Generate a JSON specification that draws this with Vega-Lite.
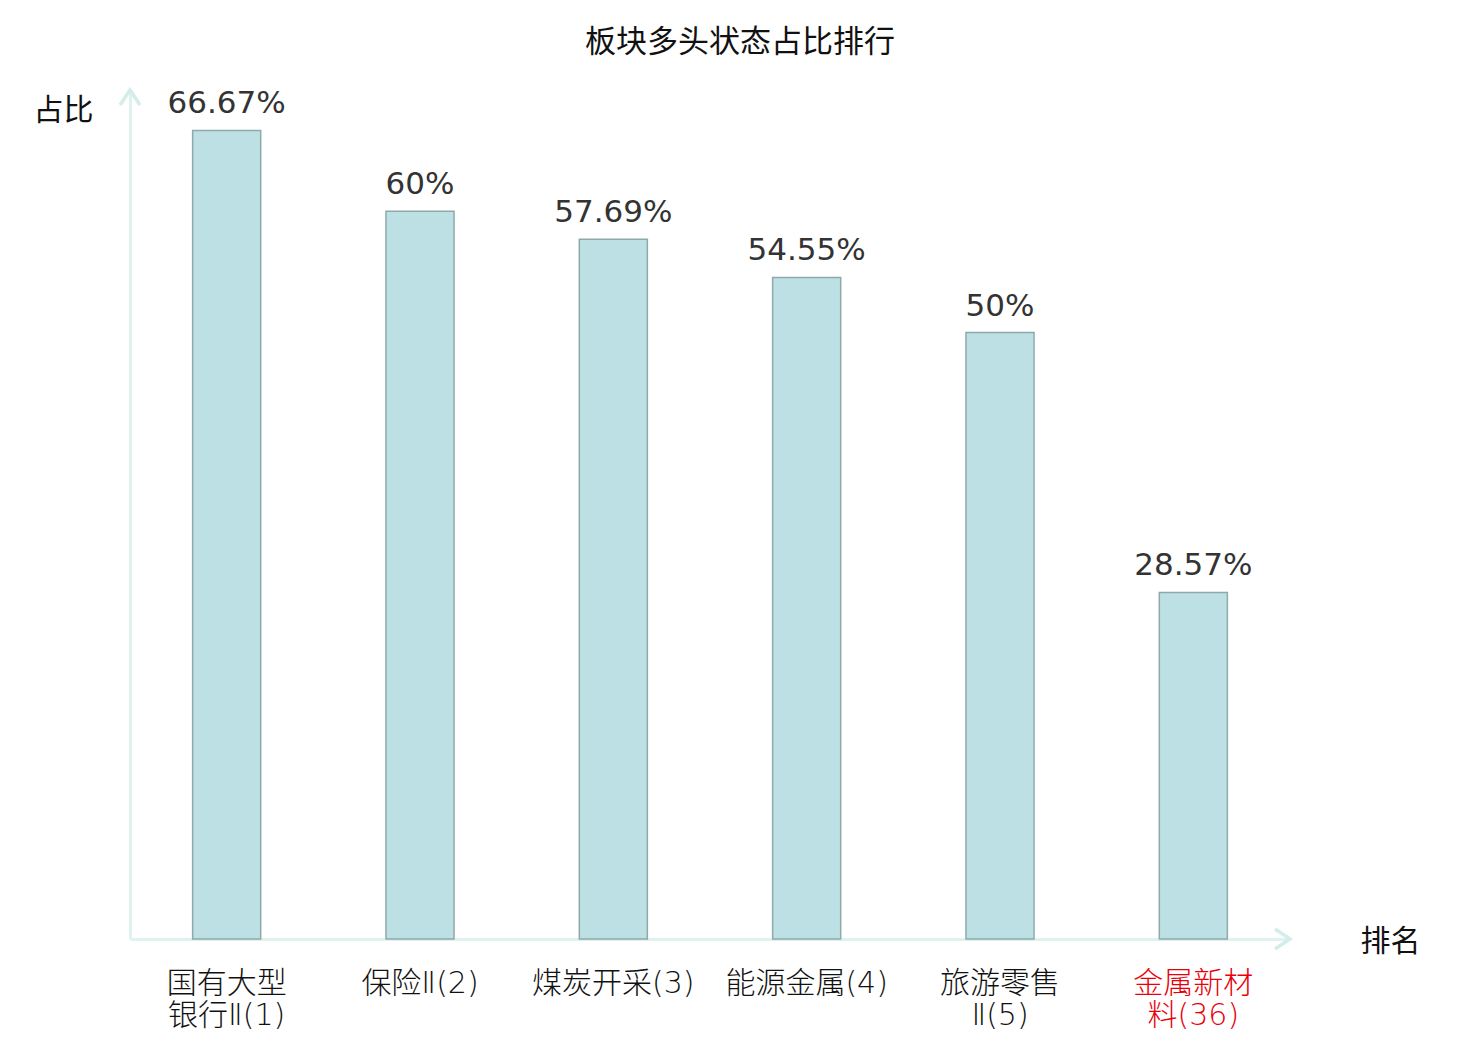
{
  "$schema": "https://vega.github.io/schema/vega-lite/v6.json",
  "width": 1160,
  "height": 849,
  "autosize": {"type": "none"},
  "padding": {"left": 130, "top": 90, "right": 190, "bottom": 101},
  "background": "white",
  "title": {
    "text": "板块多头状态占比排行",
    "font": "Noto Sans CJK SC",
    "fontSize": 31,
    "fontWeight": "normal",
    "color": "#111",
    "anchor": "middle",
    "offset": 24,
    "dx": 30
  },
  "config": {"view": {"stroke": null}},
  "data": {
    "values": [
      {"sector": "国有大型银行Ⅱ(1)", "ratio": 0.6667},
      {"sector": "保险Ⅱ(2)", "ratio": 0.6},
      {"sector": "煤炭开采(3)", "ratio": 0.5769},
      {"sector": "能源金属(4)", "ratio": 0.5455},
      {"sector": "旅游零售Ⅱ(5)", "ratio": 0.5},
      {"sector": "金属新材料(36)", "ratio": 0.2857}
    ]
  },
  "encoding": {
    "x": {
      "field": "sector",
      "type": "nominal",
      "sort": null,
      "scale": {"paddingInner": 0, "paddingOuter": 0},
      "axis": {
        "title": "排名",
        "titleFont": "Noto Sans CJK SC",
        "titleFontSize": 30,
        "titleFontWeight": "normal",
        "titleColor": "#111",
        "titleX": 1260,
        "titleY": 2,
        "titleBaseline": "middle",
        "titleAlign": "center",
        "labelAngle": 0,
        "labelFont": "DejaVu Sans, Noto Sans CJK SC",
        "labelFontSize": 30,
        "labelFontWeight": 200,
        "labelLineHeight": 32,
        "labelPadding": 29,
        "labelBaseline": "top",
        "labelExpr": "length(datum.label) > 7 ? [substring(datum.label, 0, 4), substring(datum.label, 4)] : datum.label",
        "labelColor": {"expr": "datum.value == '金属新材料(36)' ? '#e8000b' : '#111'"},
        "ticks": false,
        "domainColor": "#dff2ef",
        "domainWidth": 3,
        "grid": false
      }
    },
    "y": {
      "field": "ratio",
      "type": "quantitative",
      "scale": {"domain": [0, 0.7]},
      "axis": {
        "title": "占比",
        "titleFont": "Noto Sans CJK SC",
        "titleFontSize": 30,
        "titleFontWeight": "normal",
        "titleColor": "#111",
        "titleAngle": 0,
        "titleX": -67,
        "titleY": 20,
        "titleAlign": "center",
        "titleBaseline": "middle",
        "labels": false,
        "ticks": false,
        "grid": false,
        "domainColor": "#dff2ef",
        "domainWidth": 3
      }
    }
  },
  "layer": [
    {
      "mark": {
        "type": "bar",
        "width": {"band": 0.352},
        "fill": "#bce0e3",
        "stroke": "#8fa9aa",
        "strokeWidth": 1.5
      }
    },
    {
      "mark": {
        "type": "text",
        "baseline": "bottom",
        "dy": -10,
        "font": "DejaVu Sans",
        "fontSize": 31,
        "color": "#333"
      },
      "encoding": {
        "text": {"field": "ratio", "type": "quantitative", "format": ".2~%"}
      }
    },
    {
      "data": {"values": [{"axis": "y", "ratio": 0.7}]},
      "mark": {
        "type": "point",
        "filled": false,
        "opacity": 1,
        "strokeWidth": 3.5,
        "size": 576
      },
      "encoding": {
        "x": {"value": 0},
        "y": {"field": "ratio", "type": "quantitative"},
        "shape": {"value": "M-0.83,1.25L0,0L0.83,1.25"},
        "color": {"value": "#d3eeea"}
      }
    },
    {
      "data": {"values": [{"axis": "x", "ratio": 0}]},
      "mark": {
        "type": "point",
        "filled": false,
        "opacity": 1,
        "strokeWidth": 3.5,
        "size": 576
      },
      "encoding": {
        "x": {"value": 1160},
        "y": {"field": "ratio", "type": "quantitative"},
        "shape": {"value": "M-1.25,-0.83L0,0L-1.25,0.83"},
        "color": {"value": "#d3eeea"}
      }
    }
  ]
}
